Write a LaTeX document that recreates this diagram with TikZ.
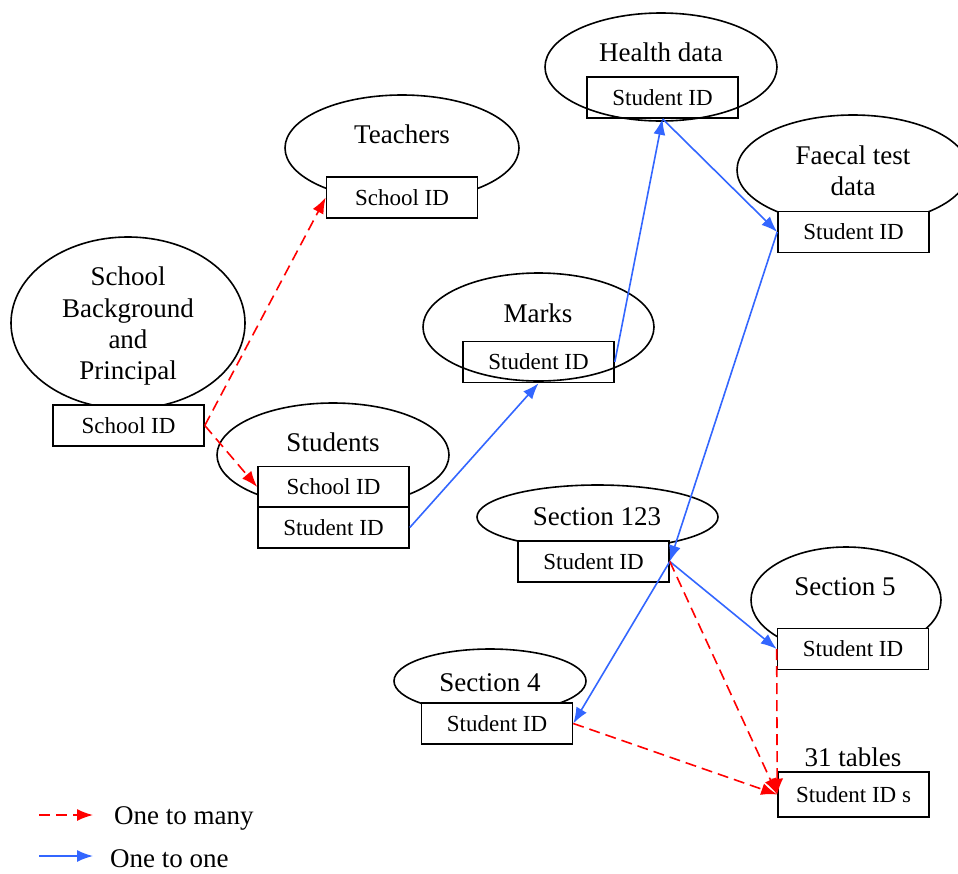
\documentclass[tikz,border=0pt]{standalone}
\usepackage{fontspec}
\setmainfont{Liberation Serif}
\usetikzlibrary{arrows.meta,shapes.geometric}
\definecolor{onered}{RGB}{255,0,0}
\definecolor{oneblue}{RGB}{51,102,255}
\newcommand{\bigtxt}{\fontsize{27}{31}\selectfont}
\newcommand{\smtxt}{\fontsize{23}{27}\selectfont}
\tikzset{
  ent/.style={draw=black,line width=1.6pt,ellipse,inner sep=0pt},
  lbl/.style={font=\bigtxt,align=center,inner sep=0pt},
  keybox/.style={draw=black,line width=1.6pt,fill=white,minimum width=151pt,minimum height=41pt,inner sep=0pt,font=\smtxt},
  onemany/.style={draw=onered,line width=1.6pt,dash pattern=on 11pt off 6pt,-{Latex[length=16pt,width=12pt,fill=onered]}},
  oneone/.style={draw=oneblue,line width=1.6pt,-{Latex[length=16pt,width=12pt,fill=oneblue]}}
}
\begin{document}
\begin{tikzpicture}[x=1pt,y=-1pt]
\useasboundingbox (0,0) rectangle (958,873);
% ellipses drawn behind the boxes
\node[ent,minimum width=234pt,minimum height=172pt] (sbE) at (128,323) {};
\node[ent,minimum width=232pt,minimum height=104pt] (stE) at (333,455) {};
\node[ent,minimum width=234pt,minimum height=106pt] (tcE) at (402,148) {};
\node[ent,minimum width=232pt,minimum height=110pt] (fcE) at (853,170) {};
\node[ent,minimum width=241pt,minimum height=64pt] (s123E) at (597.5,517) {};
\node[ent,minimum width=190pt,minimum height=106pt] (s5E) at (846,600) {};
\node[ent,minimum width=192pt,minimum height=64pt] (s4E) at (490,681) {};
% boxes
\node[keybox] (sbB) at (128.5,425.5) {School ID};
\node[keybox] (stB1) at (333.5,487) {School ID};
\node[keybox] (stB2) at (333.5,527.5) {Student ID};
\node[keybox] (tcB) at (402,197.5) {School ID};
\node[keybox] (mkB) at (538.5,362) {Student ID};
\node[keybox] (hdB) at (662.5,97.5) {Student ID};
\node[keybox] (fcB) at (853.5,232) {Student ID};
\node[keybox] (s123B) at (593.5,561.5) {Student ID};
\node[keybox] (s5B) at (853,649) {Student ID};
\node[keybox] (s4B) at (497,723.5) {Student ID};
\node[keybox,minimum height=45pt] (t31B) at (853.5,794.5) {Student ID s};
% ellipses drawn over their boxes
\node[ent,minimum width=231pt,minimum height=108pt] (mkE) at (538.5,327) {};
\node[ent,minimum width=232pt,minimum height=108pt] (hdE) at (661,67) {};
% titles
\node[lbl] (sbT) at (128,326) {School\\Background\\and\\Principal};
\node[lbl] (stT) at (333,442) {Students};
\node[lbl] (tcT) at (402,134) {Teachers};
\node[lbl] (mkT) at (538,313) {Marks};
\node[lbl] (hdT) at (661,52) {Health data};
\node[lbl] (fcT) at (853,171) {Faecal test\\data};
\node[lbl] (s123T) at (597,517) {Section 123};
\node[lbl] (s5T) at (845,587) {Section 5};
\node[lbl] (s4T) at (490,683) {Section 4};
\node[lbl] (t31T) at (853,757) {31 tables};
% connectors
\draw[onemany] (sbB.east) -- (tcB.west);
\draw[onemany] (sbB.east) -- (stB1.west);
\draw[oneone] (stB2.east) -- (mkB.south);
\draw[oneone] (mkB.east) -- (hdB.south);
\draw[oneone] (hdB.south) -- (fcB.west);
\draw[oneone] (fcB.west) -- (s123B.east);
\draw[oneone] (s123B.east) -- (s4B.east);
\draw[oneone] (s123B.east) -- (s5B.west);
\draw[onemany] (s123B.east) -- (t31B.west);
\draw[onemany] (s4B.east) -- (t31B.west);
\draw[onemany] (s5B.west) -- (t31B.west);
% legend
\coordinate (lgRa) at (39,815);
\coordinate (lgRb) at (93,815);
\coordinate (lgBa) at (39,856);
\coordinate (lgBb) at (93,856);
\draw[onemany] (lgRa) -- (lgRb);
\draw[oneone] (lgBa) -- (lgBb);
\node[lbl,anchor=west] (lgRT) at (114,818) {One to many};
\node[lbl,anchor=west] (lgBT) at (110,859) {One to one};
\end{tikzpicture}
\end{document}
